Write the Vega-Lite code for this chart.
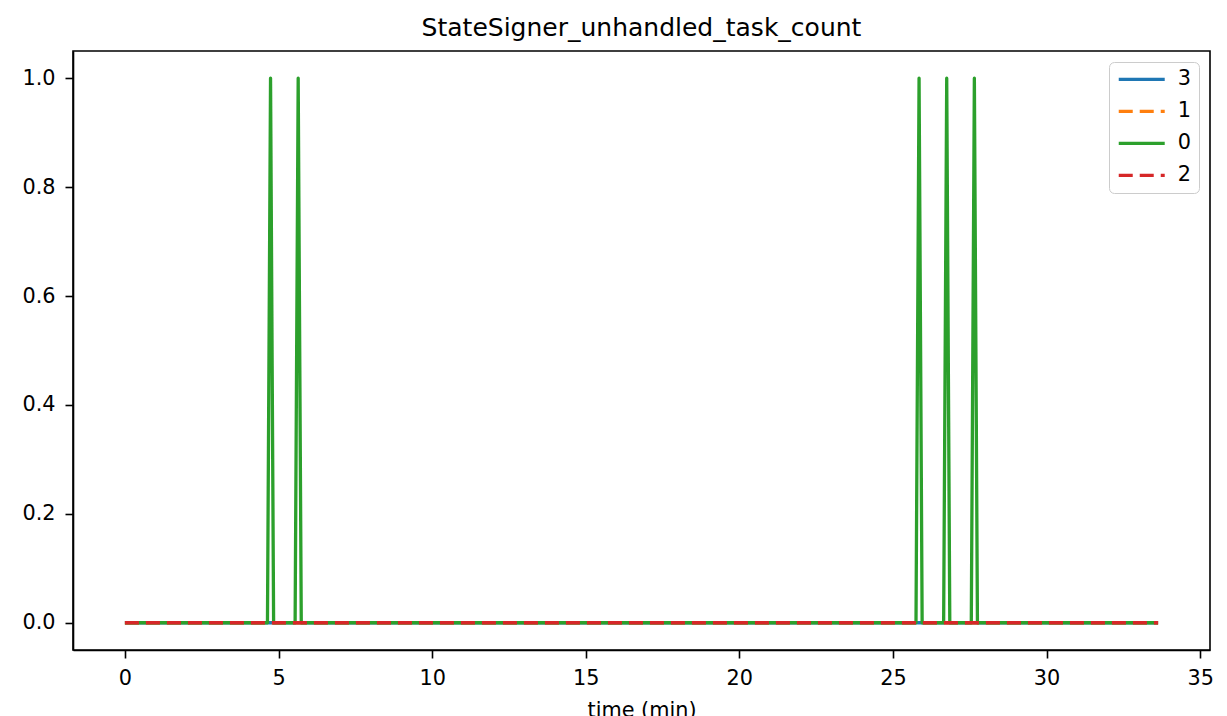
{
  "$schema": "https://vega.github.io/schema/vega-lite/v6.json",
  "autosize": {"type": "none"},
  "width": 1137,
  "height": 599,
  "padding": {"left": 73, "top": 51, "right": 17, "bottom": 66},
  "background": "white",
  "title": {"text": "StateSigner_unhandled_task_count", "font": "DejaVu Sans", "fontSize": 25, "fontWeight": "normal", "color": "black", "anchor": "middle", "offset": 10},
  "config": {
    "view": {"stroke": "black", "strokeWidth": 1.6},
    "font": "DejaVu Sans",
    "axis": {"grid": false, "domainColor": "black", "domainWidth": 1.6, "tickColor": "black", "tickWidth": 1.6, "tickSize": 8, "labelFont": "DejaVu Sans", "labelFontSize": 20.8, "labelColor": "black", "titleFont": "DejaVu Sans", "titleFontSize": 20.8, "titleFontWeight": "normal", "titleColor": "black"}
  },
  "data": {"values": [
    {"t": 0, "v": 0, "s": "3"}, {"t": 33.63, "v": 0, "s": "3"},
    {"t": 0, "v": 0, "s": "1"}, {"t": 33.63, "v": 0, "s": "1"},
    {"t": 0, "v": 0, "s": "0"},
    {"t": 4.64, "v": 0, "s": "0"}, {"t": 4.74, "v": 1, "s": "0"}, {"t": 4.84, "v": 0, "s": "0"},
    {"t": 5.54, "v": 0, "s": "0"}, {"t": 5.64, "v": 1, "s": "0"}, {"t": 5.74, "v": 0, "s": "0"},
    {"t": 25.75, "v": 0, "s": "0"}, {"t": 25.85, "v": 1, "s": "0"}, {"t": 25.95, "v": 0, "s": "0"},
    {"t": 26.65, "v": 0, "s": "0"}, {"t": 26.75, "v": 1, "s": "0"}, {"t": 26.85, "v": 0, "s": "0"},
    {"t": 27.55, "v": 0, "s": "0"}, {"t": 27.65, "v": 1, "s": "0"}, {"t": 27.75, "v": 0, "s": "0"},
    {"t": 33.63, "v": 0, "s": "0"},
    {"t": 0, "v": 0, "s": "2"}, {"t": 33.63, "v": 0, "s": "2"}
  ]},
  "encoding": {
    "x": {"field": "t", "type": "quantitative", "scale": {"domain": [-1.69, 35.32], "nice": false, "zero": false},
      "axis": {"values": [0, 5, 10, 15, 20, 25, 30, 35], "format": "d", "title": "time (min)", "labelPadding": 10, "titlePadding": 13}},
    "y": {"field": "v", "type": "quantitative", "scale": {"domain": [-0.05, 1.05], "nice": false, "zero": false},
      "axis": {"values": [0, 0.2, 0.4, 0.6, 0.8, 1.0], "format": ".1f", "title": null, "labelPadding": 10}},
    "color": {"field": "s", "type": "nominal", "scale": {"domain": ["3", "1", "0", "2"], "range": ["#1f77b4", "#ff7f0e", "#2ca02c", "#d62728"]},
      "legend": {"title": null, "orient": "none", "legendX": 1036, "legendY": 11, "padding": 7, "strokeColor": "#cccccc", "fillColor": "white", "cornerRadius": 5,
        "labelFontSize": 20.8, "labelFont": "DejaVu Sans", "labelColor": "black", "rowPadding": 10, "symbolType": "M-1,0H5", "symbolSize": 235, "symbolStrokeWidth": 3.2, "labelOffset": 41}},
    "strokeDash": {"field": "s", "type": "nominal", "scale": {"domain": ["3", "1", "0", "2"], "range": [[1, 0], [14, 7], [1, 0], [14, 7]]}, "legend": {"title": null}}
  },
  "layer": [
    {"transform": [{"filter": "datum.s === '3'"}], "mark": {"type": "line", "strokeWidth": 3.3, "strokeJoin": "round", "strokeCap": "butt"}},
    {"transform": [{"filter": "datum.s === '1'"}], "mark": {"type": "line", "strokeWidth": 3.3, "strokeJoin": "round", "strokeCap": "butt"}},
    {"transform": [{"filter": "datum.s === '0'"}], "mark": {"type": "line", "strokeWidth": 3.3, "strokeJoin": "round", "strokeCap": "butt"}},
    {"transform": [{"filter": "datum.s === '2'"}], "mark": {"type": "line", "strokeWidth": 3.3, "strokeJoin": "round", "strokeCap": "butt"}}
  ]
}
